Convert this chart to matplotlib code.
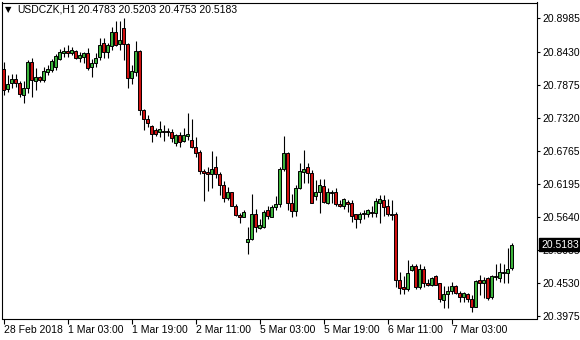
import matplotlib
matplotlib.use("Agg")
import matplotlib.pyplot as plt
import matplotlib.transforms as mtransforms

# USDCZK H1 candles
opens = [20.813, 20.780, 20.790, 20.797, 20.790, 20.770, 20.782, 20.825,
         20.794, 20.800, 20.795, 20.808, 20.812, 20.817, 20.830, 20.841,
         20.844, 20.840, 20.844, 20.832, 20.834, 20.840, 20.817, 20.824,
         20.834, 20.858, 20.843, 20.853, 20.876, 20.855, 20.882, 20.855,
         20.798, 20.809, 20.844, 20.745, 20.730, 20.717, 20.711, 20.708,
         20.709, 20.709, 20.708, 20.690, 20.702, 20.693, 20.701, 20.694,
         20.683, 20.674, 20.642, 20.641, 20.637, 20.648, 20.637, 20.618,
         20.597, 20.606, 20.584, 20.568, 20.565, 20.523, 20.528, 20.569,
         20.547, 20.548, 20.576, 20.565, 20.581, 20.587, 20.645, 20.672,
         20.588, 20.575, 20.614, 20.641, 20.648, 20.638, 20.600, 20.606,
         20.617, 20.588, 20.605, 20.606, 20.587, 20.584, 20.590, 20.589,
         20.569, 20.562, 20.569, 20.570, 20.574, 20.572, 20.589, 20.594,
         20.583, 20.569, 20.569, 20.458, 20.447, 20.443, 20.476, 20.482,
         20.447, 20.478, 20.454, 20.450, 20.465, 20.453, 20.426, 20.436,
         20.441, 20.448, 20.437, 20.431, 20.435, 20.427, 20.414, 20.458,
         20.454, 20.462, 20.430, 20.465, 20.463, 20.470, 20.470, 20.4783]
highs = [20.825, 20.804, 20.805, 20.805, 20.793, 20.793, 20.829, 20.832,
         20.815, 20.802, 20.817, 20.820, 20.830, 20.839, 20.847, 20.851,
         20.854, 20.851, 20.846, 20.842, 20.842, 20.849, 20.830, 20.840,
         20.866, 20.866, 20.857, 20.885, 20.894, 20.894, 20.899, 20.858,
         20.821, 20.861, 20.846, 20.747, 20.737, 20.719, 20.714, 20.726,
         20.719, 20.715, 20.712, 20.705, 20.708, 20.714, 20.739, 20.729,
         20.699, 20.677, 20.646, 20.649, 20.675, 20.667, 20.641, 20.625,
         20.616, 20.607, 20.587, 20.572, 20.576, 20.548, 20.604, 20.579,
         20.562, 20.576, 20.583, 20.585, 20.600, 20.649, 20.701, 20.674,
         20.604, 20.618, 20.656, 20.677, 20.656, 20.643, 20.627, 20.628,
         20.628, 20.614, 20.610, 20.613, 20.594, 20.597, 20.594, 20.593,
         20.570, 20.573, 20.577, 20.579, 20.583, 20.597, 20.601, 20.601,
         20.595, 20.593, 20.573, 20.472, 20.465, 20.493, 20.486, 20.486,
         20.485, 20.482, 20.460, 20.464, 20.467, 20.454, 20.448, 20.448,
         20.455, 20.450, 20.441, 20.439, 20.437, 20.433, 20.459, 20.467,
         20.464, 20.464, 20.467, 20.485, 20.488, 20.486, 20.512, 20.5203]
lows = [20.770, 20.775, 20.782, 20.783, 20.766, 20.756, 20.773, 20.766,
        20.778, 20.792, 20.792, 20.804, 20.808, 20.812, 20.829, 20.834,
        20.834, 20.837, 20.830, 20.825, 20.824, 20.812, 20.800, 20.817,
        20.829, 20.832, 20.832, 20.846, 20.853, 20.846, 20.829, 20.781,
        20.789, 20.801, 20.736, 20.711, 20.716, 20.691, 20.701, 20.700,
        20.692, 20.701, 20.691, 20.684, 20.682, 20.691, 20.694, 20.680,
        20.665, 20.637, 20.592, 20.609, 20.614, 20.631, 20.601, 20.590,
        20.594, 20.583, 20.566, 20.554, 20.564, 20.503, 20.526, 20.540,
        20.544, 20.547, 20.562, 20.564, 20.576, 20.582, 20.642, 20.577,
        20.565, 20.566, 20.611, 20.622, 20.622, 20.588, 20.594, 20.572,
        20.588, 20.587, 20.588, 20.584, 20.582, 20.579, 20.573, 20.556,
        20.547, 20.554, 20.562, 20.565, 20.565, 20.565, 20.555, 20.567,
        20.567, 20.560, 20.447, 20.436, 20.435, 20.440, 20.474, 20.443,
        20.443, 20.447, 20.448, 20.448, 20.450, 20.422, 20.412, 20.412,
        20.436, 20.435, 20.422, 20.422, 20.422, 20.405, 20.413, 20.433,
        20.428, 20.425, 20.427, 20.458, 20.455, 20.454, 20.454, 20.4753]
closes = [20.778, 20.788, 20.797, 20.790, 20.771, 20.782, 20.825, 20.795,
          20.800, 20.795, 20.810, 20.814, 20.827, 20.835, 20.842, 20.844,
          20.841, 20.846, 20.832, 20.837, 20.840, 20.815, 20.824, 20.832,
          20.854, 20.843, 20.854, 20.876, 20.854, 20.862, 20.855, 20.798,
          20.810, 20.844, 20.745, 20.730, 20.722, 20.705, 20.705, 20.712,
          20.707, 20.707, 20.697, 20.702, 20.691, 20.702, 20.704, 20.683,
          20.673, 20.642, 20.638, 20.637, 20.646, 20.637, 20.618, 20.596,
          20.606, 20.584, 20.568, 20.564, 20.574, 20.527, 20.570, 20.548,
          20.551, 20.574, 20.566, 20.582, 20.587, 20.645, 20.673, 20.588,
          20.575, 20.614, 20.642, 20.645, 20.638, 20.589, 20.607, 20.618,
          20.590, 20.606, 20.607, 20.586, 20.584, 20.595, 20.587, 20.566,
          20.562, 20.570, 20.572, 20.576, 20.572, 20.591, 20.595, 20.582,
          20.569, 20.568, 20.458, 20.446, 20.444, 20.470, 20.483, 20.447,
          20.478, 20.453, 20.451, 20.463, 20.451, 20.427, 20.436, 20.441,
          20.448, 20.437, 20.431, 20.437, 20.427, 20.414, 20.457, 20.453,
          20.459, 20.428, 20.465, 20.464, 20.472, 20.472, 20.478, 20.5183]

time_labels = ["28 Feb 2018", "1 Mar 03:00", "1 Mar 19:00", "2 Mar 11:00",
               "5 Mar 03:00", "5 Mar 19:00", "6 Mar 11:00", "7 Mar 03:00"]
time_label_bars = [0, 16, 32, 48, 64, 80, 96, 112]
price_ticks = [20.8985, 20.8430, 20.7875, 20.7320, 20.6765,
               20.6195, 20.5640, 20.5085, 20.4530, 20.3975]

bull = "#3cb43c"
bear = "#d01010"
font = "Liberation Sans"
fs = 7.5

W, H = 580, 340
fig = plt.figure(figsize=(W / 100, H / 100), dpi=100)
ax = fig.add_axes([2 / W, 21.5 / H, 535 / W, 316 / H])

n = len(opens)
for i in range(n):
    o, h, l, c = opens[i], highs[i], lows[i], closes[i]
    ax.vlines(i, l, h, color="black", linewidth=0.8, zorder=2)
    col = bull if c >= o else bear
    ax.bar(i, abs(c - o), bottom=min(o, c), width=0.65, color=col,
           edgecolor="black", linewidth=0.7, zorder=3)

ax.set_xlim(-0.375, 133.375)
ax.set_ylim(20.3941, 20.9254)

ax.yaxis.tick_right()
ax.set_yticks(price_ticks)
ax.set_yticklabels([f"{p:.4f}" for p in price_ticks], fontfamily=font, fontsize=fs)
ax.tick_params(axis="y", length=2.5, width=0.8, pad=1.5, colors="black")

ax.set_xticks(time_label_bars)
ax.set_xticklabels(time_labels, fontfamily=font, fontsize=fs, ha="left")
ax.tick_params(axis="x", length=3.5, width=0.8, pad=1.5, colors="black")

for s in ax.spines.values():
    s.set_linewidth(0.8)
    s.set_color("black")

# header line
fig.text(5 / W, 1 - 10 / H, "\u25bc", family="DejaVu Sans", fontsize=6,
         va="center", ha="left")
fig.text(17 / W, 1 - 10 / H, "USDCZK,H1", family=font, fontsize=fs,
         va="center", ha="left")
fig.text(78 / W, 1 - 10 / H,
         f"{opens[-1]:.4f} {highs[-1]:.4f} {lows[-1]:.4f} {closes[-1]:.4f}",
         family=font, fontsize=fs, va="center", ha="left")

# current price marker on the price scale
trans = mtransforms.blended_transform_factory(ax.transAxes, ax.transData)
ax.text(1.0 + 4 / 535, closes[-1], f"{closes[-1]:.4f}", transform=trans,
        family=font, fontsize=fs, color="white", va="center", ha="left",
        clip_on=False, zorder=10,
        bbox=dict(boxstyle="square,pad=0.15", fc="black", ec="black"))

fig.savefig("out.png", dpi=100)
